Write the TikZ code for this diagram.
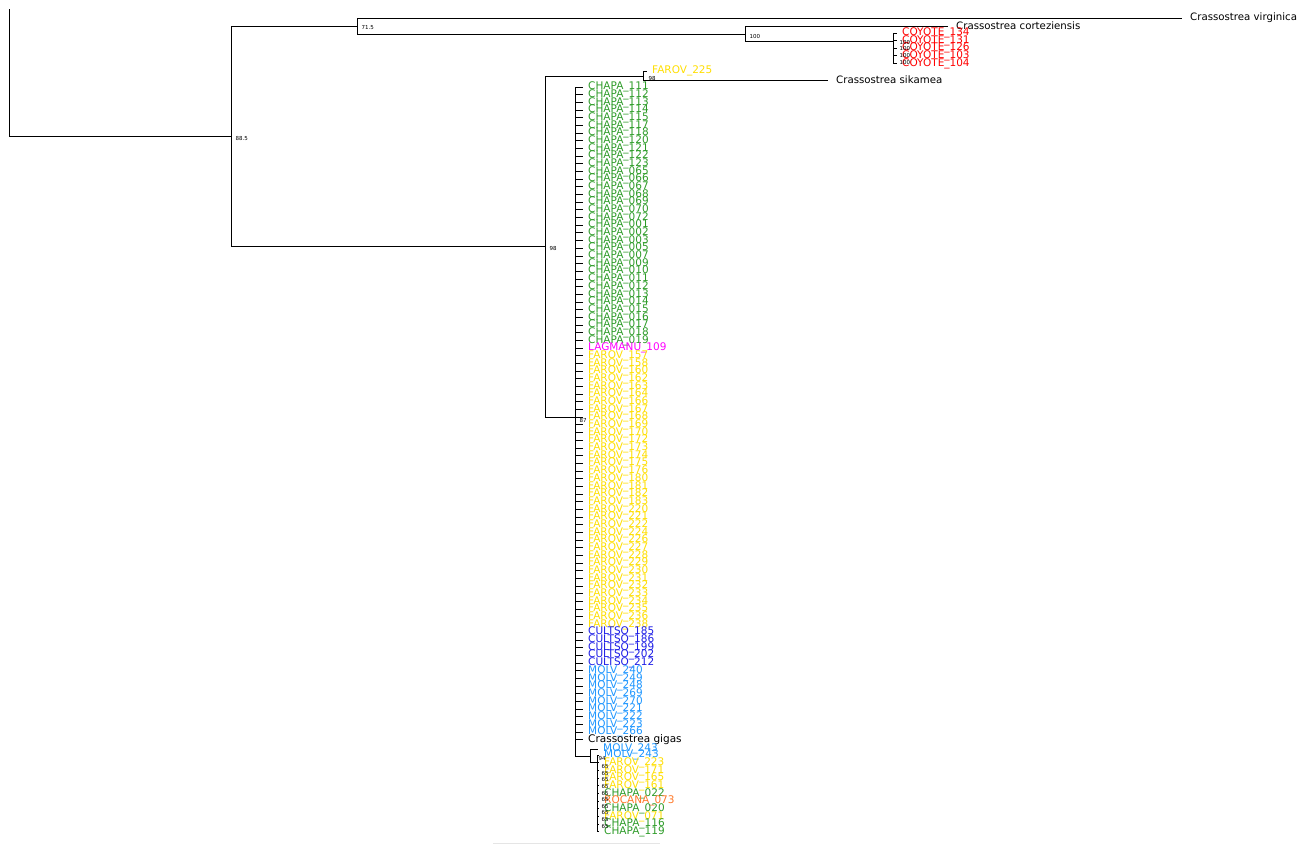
\documentclass[tikz,border=0pt]{standalone}
\usepackage{fontspec}
\setmainfont{DejaVu Sans}
\usetikzlibrary{positioning}
\definecolor{chapagreen}{RGB}{45,155,40}
\definecolor{farovyellow}{RGB}{255,222,0}
\definecolor{lagmanupink}{RGB}{255,0,255}
\definecolor{cultsoblue}{RGB}{30,30,230}
\definecolor{molvblue}{RGB}{30,150,255}
\definecolor{coyotered}{RGB}{255,0,0}
\definecolor{rocanaorange}{RGB}{255,120,40}
\def\rowstep{7.68}

\begin{document}
\begin{tikzpicture}[x=1pt,y=-1pt,
    branch/.style={line width=0.9pt, black},
    leaf/.style={anchor=west, inner xsep=5pt, inner ysep=1pt, font=\fontsize{10.5}{10.5}\selectfont},
    taxon/.style={anchor=west, inner xsep=8pt, inner ysep=1pt, font=\fontsize{10.2}{10.2}\selectfont},
    support/.style={anchor=west, inner sep=0.5pt, font=\fontsize{5.5}{5.5}\selectfont}]
    \useasboundingbox (0,0) rectangle (1312,844);
    % internal nodes
    \coordinate (rootTop) at (9,9);
    \coordinate (root) at (9,136);
    \coordinate (n885) at (231,136);
    \coordinate (n715) at (357,26);
    \coordinate (n100) at (745,34);
    \coordinate (ncoy) at (893,41);
    \coordinate (n98a) at (545,246);
    \coordinate (n98b) at (643,76);
    \coordinate (n87) at (575,417);
    \coordinate (nsub) at (590,756);
    \coordinate (n94) at (597,762);
    % outgroups
    \node[taxon] (virginica) at (1182,18) {Crassostrea virginica};
    \node[taxon] (cortez) at (948,26) {Crassostrea corteziensis};
    \node[taxon] (sikamea) at (828,80) {Crassostrea sikamea};
    \node[leaf, text=farovyellow] (farov225) at (647,71) {FAROV\_225};
    \draw[branch] (rootTop) -- (root) -- (n885);
    \draw[branch] (n885) |- (n715);
    \draw[branch] (n885) |- (n98a);
    \draw[branch] (n715) |- (virginica.west);
    \draw[branch] (n715) |- (n100);
    \draw[branch] (n100) |- (cortez.west);
    \draw[branch] (n100) |- (ncoy);
    \draw[branch] (n98a) |- (n98b);
    \draw[branch] (n98a) |- (n87);
    \draw[branch] (n98b) |- (farov225.west);
    \draw[branch] (n98b) |- (sikamea.west);
    % coyote clade
    \foreach \num [count=\k from 0] in {134,131,126,103,104} {
        \node[leaf, text=coyotered] (coyote\num) at (897,{33+7.6*\k}) {COYOTE\_\num};
        \draw[branch] (ncoy) |- (coyote\num.west);
    }
    \foreach \k in {0,...,3}
        \node[support] (bscoy\k) at (899,{42+6.8*\k}) {100};
    % big polytomy
    \foreach \num [count=\i from 0] in {111,112,113,114,115,117,118,120,121,122,123,065,066,067,068,069,070,072,001,002,003,005,007,009,010,011,012,013,014,015,016,017,018,019} {
        \node[leaf, text=chapagreen] (chapa\num) at (583,{87+\rowstep*\i}) {CHAPA\_\num};
        \draw[branch] (n87) |- (chapa\num.west);
    }
    \node[leaf, text=lagmanupink] (lagmanu109) at (583,{87+\rowstep*34}) {LAGMANU\_109};
    \draw[branch] (n87) |- (lagmanu109.west);
    \foreach \num [count=\i from 35] in {157,158,160,162,163,164,166,167,168,169,170,172,173,174,175,176,180,181,182,183,220,221,222,224,226,227,228,229,230,231,232,233,234,235,236,238} {
        \node[leaf, text=farovyellow] (farov\num) at (583,{87+\rowstep*\i}) {FAROV\_\num};
        \draw[branch] (n87) |- (farov\num.west);
    }
    \foreach \num [count=\i from 71] in {185,186,199,202,212} {
        \node[leaf, text=cultsoblue] (cultso\num) at (583,{87+\rowstep*\i}) {CULTSO\_\num};
        \draw[branch] (n87) |- (cultso\num.west);
    }
    \foreach \num [count=\i from 76] in {240,249,248,269,270,221,222,223,266} {
        \node[leaf, text=molvblue] (molv\num) at (583,{87+\rowstep*\i}) {MOLV\_\num};
        \draw[branch] (n87) |- (molv\num.west);
    }
    \node[leaf] (gigas) at (583,{87+\rowstep*85}) {Crassostrea gigas};
    \draw[branch] (n87) |- (gigas.west);
    % bottom subclade
    \draw[branch] (n87) |- (nsub);
    \node[leaf, text=molvblue] (molv243a) at (598,749) {MOLV\_243};
    \draw[branch] (nsub) |- (molv243a.west);
    \draw[branch] (nsub) |- (n94);
    \foreach \lab/\col [count=\j from 0] in {MOLV\_243/molvblue, FAROV\_223/farovyellow, FAROV\_171/farovyellow, FAROV\_165/farovyellow, FAROV\_161/farovyellow, CHAPA\_022/chapagreen, ROCANA\_073/rocanaorange, CHAPA\_020/chapagreen, FAROV\_071/farovyellow, CHAPA\_116/chapagreen, CHAPA\_119/chapagreen} {
        \node[leaf, text=\col] (sub\j) at (599,{755+\rowstep*\j}) {\lab};
        \draw[branch] (n94) |- (sub\j.west);
    }
    \foreach \j in {1,...,10}
        \node[support] (bssub\j) at (601,{760+6.6*\j}) {65};
    % support values
    \node[support] (s885) at (235,138) {88.5};
    \node[support] (s715) at (361,28) {71.5};
    \node[support] (s100) at (749,36) {100};
    \node[support] (s98a) at (549,248) {98};
    \node[support] (s98b) at (648,78) {98};
    \node[support] (s87) at (579,420) {87};
    \node[support] (s94) at (598,758) {94};
    \draw[gray!20, line width=0.8pt] (493,843) -- (660,843);
\end{tikzpicture}
\end{document}
